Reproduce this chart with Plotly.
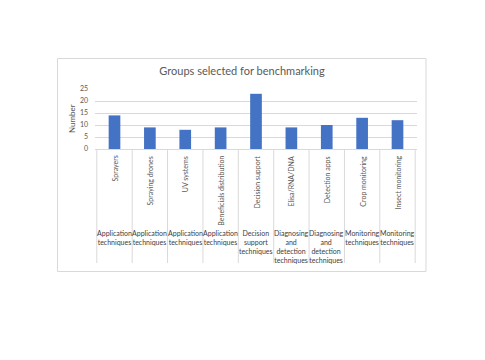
import plotly.graph_objects as go

categories = ["Sprayers", "Spraying drones", "UV systems", "Beneficials distribution",
              "Decision support", "Elisa/RNA/DNA", "Detection apps", "Crop monitoring",
              "Insect monitoring"]
groups = ["Application<br>techniques", "Application<br>techniques", "Application<br>techniques",
          "Application<br>techniques", "Decision<br>support<br>techniques",
          "Diagnosing<br>and<br>detection<br>techniques", "Diagnosing<br>and<br>detection<br>techniques",
          "Monitoring<br>techniques", "Monitoring<br>techniques"]
values = [14, 9, 8, 9, 23, 9, 10, 13, 12]
y_ticks = [0, 5, 10, 15, 20, 25]

OFF = 8  # page body margin
W, H = 485, 360
L, R, T, B = 95 - OFF, 68 + OFF, 89 - OFF, 211 + OFF
pw, ph = W - L - R, H - T - B

def px(x):
    return (x - OFF - L) / pw

def py(y):
    return (H - B - (y - OFF)) / ph

FONT = "Lato"
TXT = "#595959"
GRID = "#D9D9D9"

fig = go.Figure(go.Bar(x=categories, y=values, marker_color="#4472C4",
                       marker_line_width=0))

shapes = []
shapes.append(dict(type="rect", xref="paper", yref="paper",
                   x0=px(57.5), x1=px(426), y0=py(271.5), y1=py(58.5),
                   line=dict(color=GRID, width=1), fillcolor="rgba(0,0,0,0)", layer="below"))
for i in range(len(categories) + 1):
    shapes.append(dict(type="line", xref="x", yref="paper",
                       x0=i - 0.5, x1=i - 0.5, y0=0, y1=py(263),
                       line=dict(color=GRID, width=1)))

annotations = []
for c, g in zip(categories, groups):
    annotations.append(dict(x=c, xref="x", y=py(154), yref="paper", text=c,
                            textangle=-90, showarrow=False, xanchor="center", yanchor="top",
                            font=dict(family=FONT, size=7, color=TXT)))
    annotations.append(dict(x=c, xref="x", y=py(227), yref="paper", text=g,
                            showarrow=False, xanchor="center", yanchor="top",
                            font=dict(family=FONT, size=7, color="#404040"), align="center"))
annotations.append(dict(x=px(72), xref="paper", y=py(119), yref="paper", text="Number",
                        textangle=-90, showarrow=False, xanchor="center", yanchor="middle",
                        font=dict(family=FONT, size=8, color=TXT)))

fig.update_layout(
    width=W, height=H,
    margin=dict(l=L, r=R, t=T, b=B, autoexpand=False),
    paper_bgcolor="white", plot_bgcolor="white",
    title=dict(text="Groups selected for benchmarking", x=(242 - OFF) / W, xanchor="center",
               y=1 - (71 - OFF) / H, yanchor="middle", yref="container",
               font=dict(family=FONT, size=11, color=TXT)),
    bargap=0.67,
    showlegend=False,
    shapes=shapes,
    annotations=annotations,
    xaxis=dict(showticklabels=False, showline=True, linecolor=GRID, linewidth=1,
               ticks="", showgrid=False, zeroline=False),
    yaxis=dict(range=[0, 25], tickvals=y_ticks, showgrid=True, gridcolor=GRID, gridwidth=1,
               zeroline=False, showline=False, ticks="", ticklabelstandoff=6,
               tickfont=dict(family=FONT, size=7, color=TXT)),
)

fig.write_html("out.html")
